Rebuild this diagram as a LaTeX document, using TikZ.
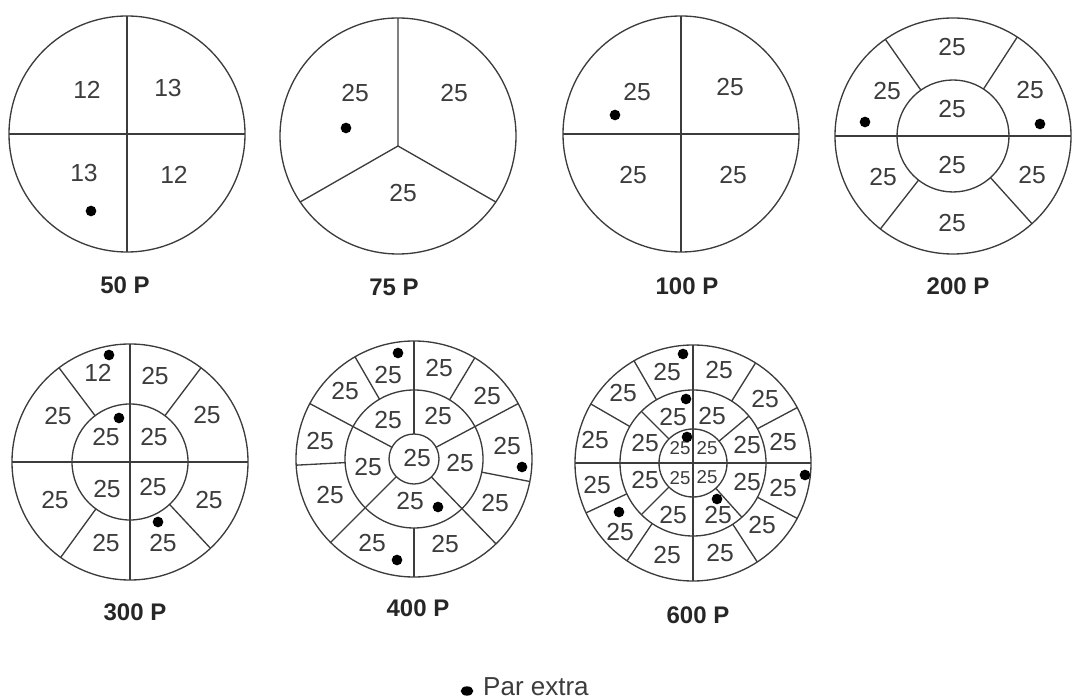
\documentclass[tikz,border=0pt]{standalone}
\usepackage{fontspec}
\setmainfont{Liberation Sans}
\usetikzlibrary{positioning,shapes.geometric}
\definecolor{ink}{HTML}{3C3C3C}

\begin{document}
\begin{tikzpicture}[
  x=0.75pt,y=0.75pt,
  line/.style={draw=ink,line width=1pt},
  num/.style={text=ink,inner sep=0pt,font=\fontsize{18.5}{18.5}\selectfont},
  tiny/.style={num,font=\fontsize{14}{14}\selectfont},
  extra/.style={circle,fill=black,inner sep=0pt,minimum size=8pt},
  caption/.style={inner sep=0pt,text=black!85,font=\bfseries\fontsize{18}{18}\selectfont},
  legend/.style={inner sep=0pt,text=ink,font=\fontsize{19.5}{19.5}\selectfont},
]
\useasboundingbox (0,0) rectangle (1073,699);

% 50 P
\begin{scope}[shift={(127,565)}]
  \draw[line] (0,0) circle[radius=118];
  \draw[line] (-118,0) -- (118,0) (0,-118) -- (0,118);
  \foreach \x/\y/\lab [count=\i] in {-40/44/12,41/46/13,-43/-39/13,47/-41/12}
    \node[num] (p50-\i) at (\x,\y) {\lab};
  \node[extra] (x50-1) at (-36,-77) {};
\end{scope}
\node[caption] (cap50) at (125,414) {50 P};

% 75 P
\begin{scope}[shift={(398,563)}]
  \draw[line] (0,0) circle[radius=118];
  \coordinate (y75) at (0,-10);
  \draw[line] (y75) -- (90:118) (y75) -- (214:118) (y75) -- (326:118);
  \foreach \x/\y [count=\i] in {-43/43,56/43,5/-57}
    \node[num] (p75-\i) at (\x,\y) {25};
  \node[extra] (x75-1) at (-52,8) {};
\end{scope}
\node[caption] (cap75) at (394,412) {75 P};

% 100 P
\begin{scope}[shift={(681,565)}]
  \draw[line] (0,0) circle[radius=118];
  \draw[line] (-118,0) -- (118,0) (0,-118) -- (0,118);
  \foreach \x/\y [count=\i] in {-44/42,49/47,-48/-41,52/-41}
    \node[num] (p100-\i) at (\x,\y) {25};
  \node[extra] (x100-1) at (-66,19) {};
\end{scope}
\node[caption] (cap100) at (687,413) {100 P};

% 200 P
\begin{scope}[shift={(953,563)}]
  \draw[line] (0,0) circle[radius=118] (0,0) circle[radius=56];
  \draw[line] (-118,0) -- (118,0);
  \foreach \a in {125,57,232,312}
    \draw[line] (\a:56) -- (\a:118);
  \foreach \x/\y [count=\i] in {-1/89,-66/45,77/46,-1/27,-1/-29,-70/-41,79/-39,-1/-87}
    \node[num] (p200-\i) at (\x,\y) {25};
  \node[extra] (x200-1) at (-88,14) {};
  \node[extra] (x200-2) at (87,12) {};
\end{scope}
\node[caption] (cap200) at (958,413) {200 P};

% 300 P
\begin{scope}[shift={(130,237)}]
  \draw[line] (0,0) circle[radius=118] (0,0) circle[radius=58];
  \draw[line] (-118,0) -- (118,0) (0,-118) -- (0,118);
  \foreach \a in {127,53,234,313}
    \draw[line] (\a:58) -- (\a:118);
  \foreach \x/\y/\lab [count=\i] in {-32/89/12,25/86/25,-72/46/25,77/47/25,
      -24/25/25,24/25/25,-23/-27/25,23/-25/25,-75/-38/25,79/-38/25,-24/-81/25,33/-81/25}
    \node[num] (p300-\i) at (\x,\y) {\lab};
  \foreach \x/\y [count=\i] in {-21/107,-11/44,28/-60}
    \node[extra] (x300-\i) at (\x,\y) {};
\end{scope}
\node[caption] (cap300) at (135,87) {300 P};

% 400 P
\begin{scope}[shift={(414,240)}]
  \draw[line] (0,0) circle[radius=118] (0,0) circle[radius=69] (0,0) circle[radius=25];
  \foreach \a in {28,90,152,225,314}
    \draw[line] (\a:25) -- (\a:118);
  \foreach \a in {59,120,183,270,349}
    \draw[line] (\a:69) -- (\a:118);
  \foreach \x/\y [count=\i] in {-26/84,25/91,-69/68,73/63,-94/18,93/13,-84/-36,81/-44,-42/-84,31/-85,
      -26/39,24/43,-46/-8,46/-4,-4/-42,3/1}
    \node[num] (p400-\i) at (\x,\y) {25};
  \foreach \x/\y [count=\i] in {-16/106,108/-8,24/-48,-17/-101}
    \node[extra] (x400-\i) at (\x,\y) {};
\end{scope}
\node[caption] (cap400) at (418,91) {400 P};

% 600 P
\begin{scope}[shift={(693,236)}]
  \draw[line] (0,0) circle[radius=118] (0,0) circle[radius=73] (0,0) circle[radius=34];
  \draw[line] (-118,0) -- (118,0) (0,-118) -- (0,118);
  \foreach \a in {40,135,225,312}
    \draw[line] (\a:34) -- (\a:73);
  \foreach \a in {28,58,120,150,205,236,303,332}
    \draw[line] (\a:73) -- (\a:118);
  \foreach \x/\y [count=\i] in {-26/91,26/93,-70/70,72/64,-98/23,90/21,-96/-22,90/-25,-73/-69,69/-62,-26/-92,27/-90,
      -20/46,19/47,-48/20,54/18,-48/-17,54/-19,-20/-52,25/-52}
    \node[num] (p600-\i) at (\x,\y) {25};
  \foreach \x/\y [count=\i] in {-13/15,14/15,-13/-15,14/-14}
    \node[tiny] (q600-\i) at (\x,\y) {25};
  \foreach \x/\y [count=\i] in {-10/109,-7/64,-6/26,112/-12,24/-36,-74/-49}
    \node[extra] (x600-\i) at (\x,\y) {};
\end{scope}
\node[caption] (cap600) at (698,84) {600 P};

% key
\node[extra,ellipse,minimum width=9.5pt,minimum height=7pt] (key) at (467,8) {};
\node[legend,right=7pt of key,yshift=3.4pt] (keytext) {Par extra};
\end{tikzpicture}
\end{document}
